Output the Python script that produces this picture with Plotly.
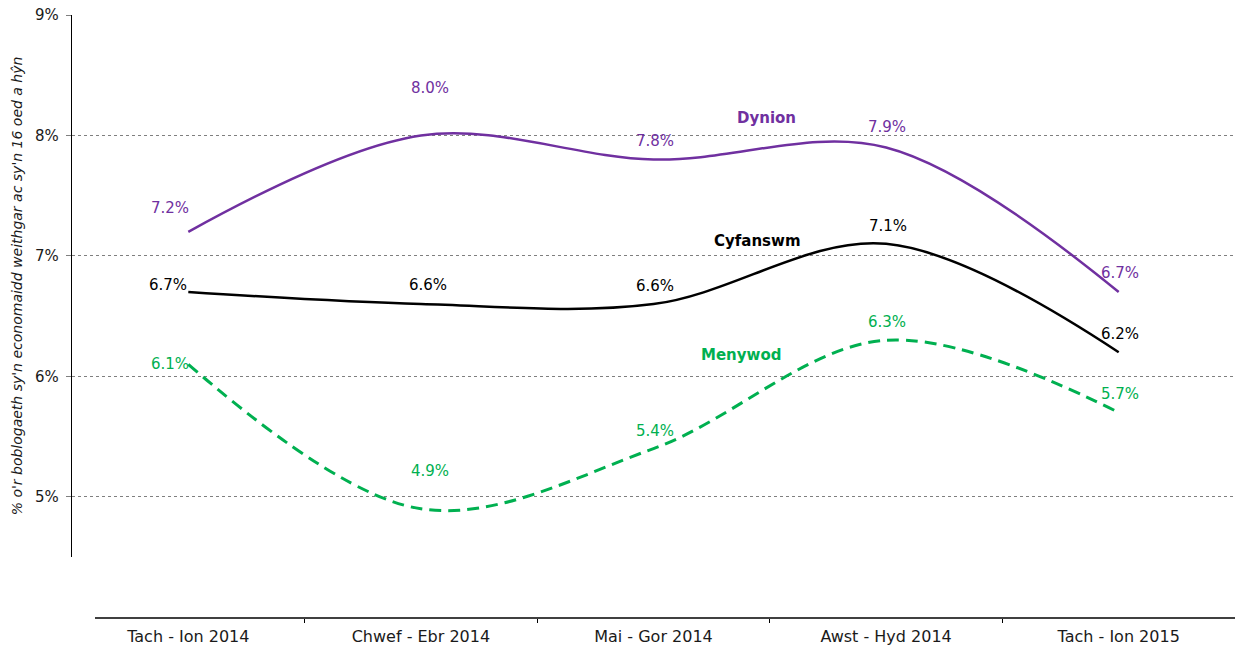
import plotly.graph_objects as go

categories = ["Tach - Ion 2014", "Chwef - Ebr 2014", "Mai - Gor 2014", "Awst - Hyd 2014", "Tach - Ion 2015"]
dynion = [7.2, 8.0, 7.8, 7.9, 6.7]
cyfanswm = [6.7, 6.6, 6.6, 7.1, 6.2]
menywod = [6.1, 4.9, 5.4, 6.3, 5.7]
y_ticks = [5, 6, 7, 8, 9]
y_title = "% o'r boblogaeth sy'n economaidd weithgar ac sy'n 16 oed a hŷn"

PURPLE = "#7030A0"
GREEN = "#00B050"
BLACK = "#000000"
FONT = "DejaVu Sans"

xs = list(range(len(categories)))

fig = go.Figure()
fig.add_trace(go.Scatter(x=xs, y=dynion, mode="lines", line=dict(color=PURPLE, width=2.5, shape="spline", smoothing=1.0), name="Dynion"))
fig.add_trace(go.Scatter(x=xs, y=cyfanswm, mode="lines", line=dict(color=BLACK, width=2.5, shape="spline", smoothing=1.0), name="Cyfanswm"))
fig.add_trace(go.Scatter(x=xs, y=menywod, mode="lines", line=dict(color=GREEN, width=3, shape="spline", smoothing=1.0, dash="12px,7px"), name="Menywod"))

# data label offsets (style): (xshift, yshift) in px
off_d = [(-18, 24), (9, 47), (1, 19), (1, 20), (1, 19)]
off_c = [(-20, 7), (7, 19), (1, 18), (2, 18), (1, 18)]
off_m = [(-18, 0), (9, 38), (1, 18), (1, 18), (1, 18)]

annotations = []
for vals, offs, col in [(dynion, off_d, PURPLE), (cyfanswm, off_c, BLACK), (menywod, off_m, GREEN)]:
    for i, (v, (dx, dy)) in enumerate(zip(vals, offs)):
        annotations.append(dict(x=xs[i], y=v, xref="x", yref="y", text=f"{v:.1f}%", showarrow=False,
                                xshift=dx, yshift=dy, font=dict(family=FONT, size=15, color=col)))

# series name labels
for name, x, y, col in [("Dynion", 2.484, 8.145, PURPLE), ("Cyfanswm", 2.449, 7.125, BLACK), ("Menywod", 2.376, 6.178, GREEN)]:
    annotations.append(dict(x=x, y=y, xref="x", yref="y", text=f"<b>{name}</b>", showarrow=False,
                            font=dict(family=FONT, size=15, color=col)))

fig.update_layout(
    width=1235, height=647,
    margin=dict(l=72, r=0, t=15, b=29),
    paper_bgcolor="white", plot_bgcolor="white",
    showlegend=False,
    font=dict(family=FONT, size=15, color="#1a1a1a"),
    annotations=annotations,
    xaxis=dict(
        range=[-0.5, len(categories) - 0.5],
        tickmode="array", tickvals=xs, ticktext=categories,
        ticks="", showgrid=False, zeroline=False, showline=False,
        anchor="free", position=0,
        tickfont=dict(family=FONT, size=16, color="#1a1a1a"),
        ticklabelstandoff=7,
        minor=dict(tickmode="array", tickvals=[i + 0.5 for i in xs[:-1]], ticks="outside", ticklen=4, tickcolor="#000", tickwidth=1, showgrid=False),
    ),
    yaxis=dict(
        range=[4.5, 9], domain=[(618 - 557) / 603, 1],
        tickvals=y_ticks, ticktext=[f"{t}%" for t in y_ticks],
        showgrid=True, gridcolor="#7f7f7f", griddash="dot", gridwidth=1,
        zeroline=False, showline=True, linecolor="#000", linewidth=1.3,
        ticks="outside", ticklen=5, tickcolor="#7f7f7f",
        ticklabelstandoff=4,
        tickfont=dict(family=FONT, size=15, color="#1a1a1a"),
        title=dict(text=f"<i>{y_title}</i>", font=dict(family=FONT, size=14, color="#1a1a1a"), standoff=9),
        automargin=False,
    ),
    shapes=[dict(type="line", xref="paper", yref="paper", x0=(95 - 72) / 1163, x1=1, y0=0, y1=0,
                 line=dict(color="#000", width=1.3))],
)

fig.write_html("out.html", config={"displayModeBar": False},
               post_script="document.body.style.margin='0';document.body.style.overflow='hidden';")
